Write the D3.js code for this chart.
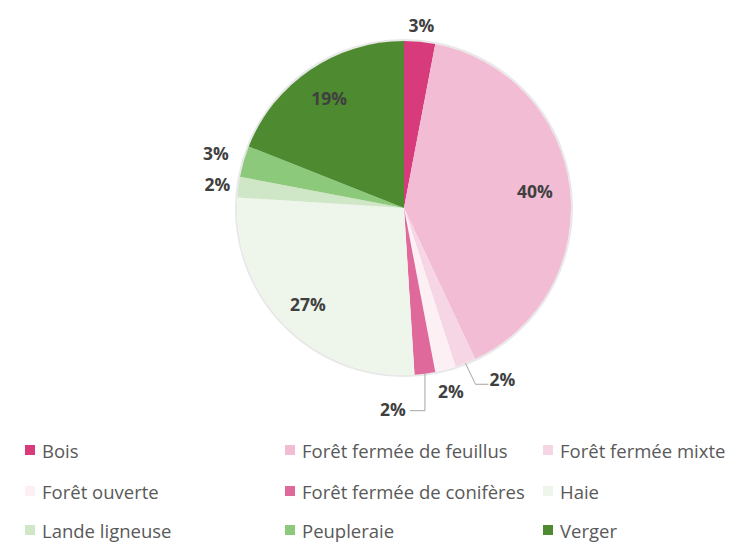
<!DOCTYPE html>
<html>
<head>
<meta charset="utf-8">
<script src="https://cdn.jsdelivr.net/npm/d3@7"></script>
<style>
  html, body { margin: 0; padding: 0; background: #ffffff; }
  svg { display: block; }
</style>
</head>
<body>
<svg id="chart" width="736" height="544"></svg>
<script>
// ---- Data ----
const categories = [
  "Bois",
  "Forêt fermée de feuillus",
  "Forêt fermée mixte",
  "Forêt ouverte",
  "Forêt fermée de conifères",
  "Haie",
  "Lande ligneuse",
  "Peupleraie",
  "Verger"
];
const values = [3, 40, 2, 2, 2, 27, 2, 3, 19];
const labels = ["3%", "40%", "2%", "2%", "2%", "27%", "2%", "3%", "19%"];
const colors = ["#d83b7b", "#f2bdd4", "#f6d6e4", "#fcf0f5", "#e0699c", "#eef6ec", "#d0e7c7", "#8dc97b", "#4e8a30"];

// ---- Layout ----
const W = 736, H = 544;
const cx = 404, cy = 208, R = 167;
const svg = d3.select("#chart");

const pie = d3.pie().sort(null).value(d => d)(values);
const arc = d3.arc().innerRadius(0).outerRadius(R);

const g = svg.append("g").attr("transform", `translate(${cx},${cy})`);

// soft shadow rim
g.append("circle").attr("r", R + 1).attr("fill", "none")
  .attr("stroke", "#d8d8d8").attr("stroke-width", 2).attr("stroke-opacity", 0.6);

g.selectAll("path.slice")
  .data(pie)
  .enter().append("path")
  .attr("class", "slice")
  .attr("d", arc)
  .attr("fill", (d, i) => colors[i]);

// label placement modes (layout, not data)
const labelLayout = [
  { mode: "out", r: 184 },
  { mode: "in", r: 132 },
  { mode: "leader", drop: [10, 21], hx: 13, tx: 14, ty: -5 },
  { mode: "out", r: 189 },
  { mode: "leader", drop: [0, 37], hx: -15, tx: -17, ty: -2 },
  { mode: "in", r: 136 },
  { mode: "out", r: 188 },
  { mode: "out", r: 196 },
  { mode: "in", r: 133 }
];

const pt = (a, r) => [r * Math.sin(a), -r * Math.cos(a)];

pie.forEach((d, i) => {
  const L = labelLayout[i];
  const mid = (d.startAngle + d.endAngle) / 2;
  let x, y;
  if (L.mode === "in" || L.mode === "out") {
    [x, y] = pt(mid, L.r);
  } else {
    const [ex, ey] = pt(mid, R);
    const p1 = [ex + L.drop[0], ey + L.drop[1]];
    const p2 = [p1[0] + L.hx, p1[1]];
    g.append("polyline")
      .attr("points", [[ex, ey], p1, p2].map(p => p.join(",")).join(" "))
      .attr("fill", "none").attr("stroke", "#a6a6a6").attr("stroke-width", 1);
    x = p2[0] + L.tx;
    y = p2[1] + L.ty;
  }
  g.append("text")
    .attr("x", x).attr("y", y)
    .attr("text-anchor", "middle")
    .attr("dominant-baseline", "central")
    .attr("font-family", "'Open Sans', sans-serif")
    .attr("font-weight", 700)
    .attr("font-size", 17.5)
    .attr("fill", "#404040")
    .text(labels[i]);
});

// ---- Legend ----
const colX = [42, 302, 560];
const rowY = [450, 491, 530];
const legend = svg.append("g");
categories.forEach((c, i) => {
  const col = i % 3, row = Math.floor(i / 3);
  const x = colX[col], y = rowY[row];
  legend.append("rect")
    .attr("x", x - 17).attr("y", y - 5)
    .attr("width", 10).attr("height", 10)
    .attr("fill", colors[i]);
  legend.append("text")
    .attr("x", x).attr("y", y)
    .attr("dominant-baseline", "central")
    .attr("font-family", "'Open Sans', sans-serif")
    .attr("font-size", 18.5)
    .attr("fill", "#595959")
    .text(c);
});
</script>
</body>
</html>
